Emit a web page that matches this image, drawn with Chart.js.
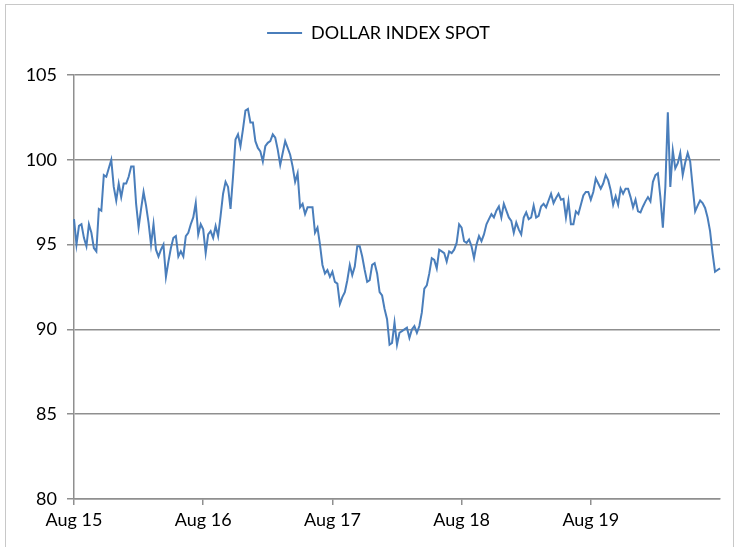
<!DOCTYPE html>
<html>
<head>
<meta charset="utf-8">
<script src="https://cdn.jsdelivr.net/npm/chart.js@4.4.1/dist/chart.umd.min.js"></script>
<style>
  html, body { margin: 0; padding: 0; background: #fff; }
  #frame { position: absolute; left: 5px; top: 4px; width: 729px; height: 544px; border: 1px solid #c8c8c8; box-sizing: border-box; }
  #myChart { position: absolute; left: 0; top: 0; }
</style>
</head>
<body>
<div id="frame"></div>
<canvas id="myChart" width="748" height="547"></canvas>
<script>
const seriesName = "DOLLAR INDEX SPOT";
const tickLabels = ["Aug 15", "Aug 16", "Aug 17", "Aug 18", "Aug 19"];
const yTicks = [80, 85, 90, 95, 100, 105];
const lineColor = "#4a7ebb";
const gridColor = "#8f8f8f";

// weekly closes, Aug 2015 .. Jul 2020
const dxy = [
  96.5, 95.0, 96.1, 96.2, 95.4, 94.9, 96.2, 95.7, 94.8, 94.6,
  97.1, 97.0, 99.1, 99.0, 99.5, 100.0, 98.4, 97.6, 98.6, 97.8,
  98.6, 98.6, 99.0, 99.6, 99.6, 97.4, 96.0, 97.1, 98.1, 97.3,
  96.3, 95.0, 96.2, 94.7, 94.3, 94.7, 95.0, 93.1, 94.0, 94.8,
  95.4, 95.5, 94.3, 94.6, 94.3, 95.5, 95.7, 96.2, 96.6, 97.45,
  95.6, 96.2, 95.9, 94.5, 95.6, 95.8, 95.4, 96.1, 95.5, 96.7,
  98.0, 98.7, 98.4, 97.1, 99.0, 101.2, 101.5, 100.8, 101.8, 102.9,
  103.0, 102.2, 102.2, 101.1, 100.7, 100.5, 99.9, 100.8, 101.0, 101.1,
  101.5, 101.3, 100.6, 99.7, 100.4, 101.1, 100.7, 100.3, 99.6, 98.7,
  99.2, 97.2, 97.4, 96.8, 97.2, 97.2, 97.2, 95.7, 96.0, 95.0,
  93.8, 93.3, 93.5, 93.1, 93.4, 92.8, 92.7, 91.5, 91.9, 92.2,
  92.9, 93.8, 93.2, 93.7, 94.9, 94.9, 94.3, 93.5, 92.8, 92.9,
  93.8, 93.9, 93.3, 92.2, 92.0, 91.2, 90.6, 89.1, 89.2, 90.4,
  89.1, 89.8, 89.9, 90.0, 90.1, 89.5, 90.0, 90.2, 89.8, 90.2,
  91.0, 92.4, 92.6, 93.3, 94.2, 94.1, 93.6, 94.7, 94.6, 94.5,
  94.0, 94.6, 94.5, 94.7, 95.1, 96.2, 96.0, 95.2, 95.1, 95.3,
  94.9, 94.2, 95.0, 95.5, 95.2, 95.6, 96.2, 96.5, 96.8, 96.6,
  97.0, 97.25, 96.6, 97.4, 97.0, 96.6, 96.4, 95.7, 96.3, 95.9,
  95.6, 96.6, 96.9, 96.5, 96.6, 97.3, 96.6, 96.7, 97.25, 97.4,
  97.2, 97.6, 98.0, 97.45, 97.75, 98.0, 97.65, 97.7, 96.6, 97.55,
  96.2, 96.2, 96.96, 96.8, 97.35, 97.9, 98.1, 98.1, 97.65, 98.1,
  98.9, 98.6, 98.3, 98.6, 99.1, 98.8, 98.2, 97.35, 97.85, 97.35,
  98.3, 98.0, 98.3, 98.3, 97.8, 97.2, 97.65, 96.96, 96.9, 97.25,
  97.55, 97.8, 97.55, 98.7, 99.1, 99.2, 97.8, 96.0, 98.4, 102.8,
  98.4, 100.55, 99.5, 99.8, 100.4, 99.1, 99.84, 100.4, 99.9, 98.4,
  96.96, 97.3, 97.6, 97.45, 97.16, 96.6, 95.8, 94.5, 93.4, 93.5, 93.6
];

const firstWeek = new Date(2015, 7, 7);
const weeks = dxy.map((v, i) => {
  const d = new Date(firstWeek);
  d.setDate(d.getDate() + 7 * i);
  return d;
});
const months = ["Jan","Feb","Mar","Apr","May","Jun","Jul","Aug","Sep","Oct","Nov","Dec"];

const font = { family: "Lato", size: 18 };

// leave more room under the legend, like the original
const legendGap = {
  id: "legendGap",
  beforeInit(chart) {
    const fit = chart.legend.fit;
    chart.legend.fit = function () {
      fit.call(this);
      this.height += 23;
    };
  }
};

new Chart("myChart", {
  type: "line",
  data: {
    labels: weeks.map(d => d.toISOString().slice(0, 10)),
    datasets: [{
      label: seriesName,
      data: dxy,
      borderColor: lineColor,
      backgroundColor: lineColor,
      borderWidth: 2,
      pointRadius: 0,
      tension: 0
    }]
  },
  options: {
    responsive: false,
    animation: false,
    layout: { padding: { top: 1, left: 9, right: 0, bottom: 0 } },
    plugins: {
      legend: {
        position: "top",
        labels: {
          color: "#000",
          font: font,
          padding: 23,
          usePointStyle: true,
          pointStyle: "line",
          pointStyleWidth: 35
        }
      },
      tooltip: { enabled: false }
    },
    scales: {
      x: {
        grid: { drawOnChartArea: false, drawTicks: true, tickLength: 6, color: gridColor, lineWidth: 1.5 },
        border: { display: true, color: gridColor, width: 1.5 },
        ticks: {
          autoSkip: false,
          maxRotation: 0,
          color: "#000",
          font: font,
          padding: 4,
          callback: function (value, index) {
            const d = weeks[index];
            if (d.getMonth() !== 7 || d.getDate() > 7) return null;
            const lbl = months[d.getMonth()] + " " + String(d.getFullYear()).slice(2);
            return tickLabels.includes(lbl) ? lbl : null;
          }
        },
        afterFit: s => { s.height = 48; }
      },
      y: {
        min: yTicks[0],
        max: yTicks[yTicks.length - 1],
        grid: { color: gridColor, lineWidth: 1.5, tickLength: 7 },
        border: { display: true, color: gridColor, width: 1.5 },
        ticks: { stepSize: yTicks[1] - yTicks[0], color: "#000", font: font, padding: 10 },
        afterFit: s => { s.width = 65; }
      },
      y2: {
        position: "right",
        grid: { display: false },
        border: { display: false },
        ticks: { display: false },
        afterFit: s => { s.width = 28; }
      }
    }
  },
  plugins: [legendGap]
});
</script>
</body>
</html>
